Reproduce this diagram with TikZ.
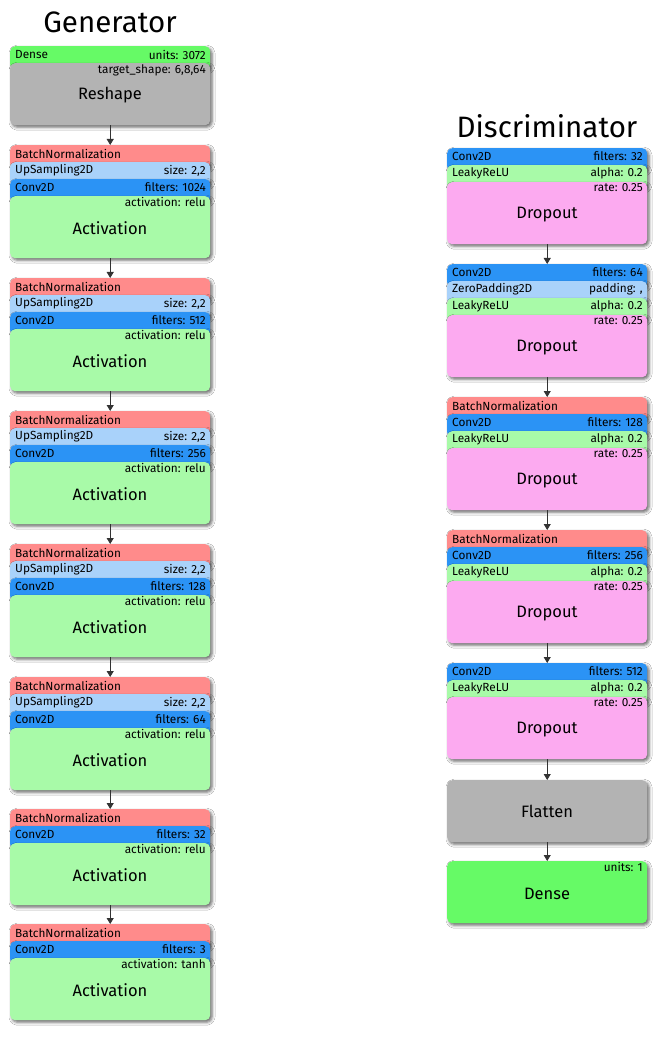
\documentclass[tikz,border=0pt]{standalone}
\usepackage{fontspec}
\setmainfont{Fira Sans}
\usetikzlibrary{shadows.blur,arrows.meta}
\definecolor{cBN}{HTML}{FF8B8B}
\definecolor{cUp}{HTML}{A9D2FA}
\definecolor{cConv}{HTML}{2B93F5}
\definecolor{cAct}{HTML}{A8FAA8}
\definecolor{cDense}{HTML}{66FA66}
\definecolor{cGray}{HTML}{B3B3B3}
\definecolor{cDrop}{HTML}{FCAAF0}
\tikzset{
  box/.style={draw=none, rounded corners=5pt, minimum width=200pt, inner sep=0pt, anchor=north west,
    blur shadow={shadow xshift=1.8pt, shadow yshift=-2pt, shadow blur radius=3pt, shadow opacity=60}},
  lbl/.style={font=\fontsize{11.8}{13}\selectfont, inner sep=0pt},
  mainlbl/.style={font=\fontsize{16.5}{18}\selectfont, inner sep=0pt},
  ttl/.style={font=\fontsize{29.5}{32}\selectfont, inner sep=0pt},
  arr/.style={draw=black!80, line width=0.8pt, -{Triangle[length=6pt,width=7pt]}}
}
% strip with left and right labels: name, x, top, colour, left, right
\newcommand\stripLR[6]{%
  \node[box, fill=#4, minimum height=23pt] (#1) at (#2,#3) {};
  \node[lbl, anchor=west] (#1l) at (#2+5,#3+8.5) {#5};
  \node[lbl, anchor=east] (#1r) at (#2+196,#3+8.5) {#6};
}
% strip with left label only
\newcommand\stripL[5]{%
  \node[box, fill=#4, minimum height=23pt] (#1) at (#2,#3) {};
  \node[lbl, anchor=west] (#1l) at (#2+5,#3+8.5) {#5};
}
% body: name, x, top, colour, attr, main
\newcommand\bodyA[6]{%
  \node[box, fill=#4, minimum height=62pt] (#1) at (#2,#3) {};
  \node[lbl, anchor=north east] (#1a) at (#2+196,#3+1.5) {#5};
  \node[mainlbl] (#1m) at (#2+100,#3+32.5) {#6};
}
\newcommand\bodyN[5]{%
  \node[box, fill=#4, minimum height=62pt] (#1) at (#2,#3) {};
  \node[mainlbl] (#1m) at (#2+100,#3+31.5) {#5};
}
\begin{document}
\begin{tikzpicture}[x=1pt,y=-1pt]
\useasboundingbox[fill=white] (0,0) rectangle (660,1040);
% ---------------- Generator ----------------
\node[ttl] (gt) at (110,22) {Generator};
\stripLR{g0a}{10}{46}{cDense}{Dense}{units: 3072}
\bodyA{g0b}{10}{63}{cGray}{target\_shape: 6,8,64}{Reshape}

\stripL{g1a}{10}{145}{cBN}{BatchNormalization}
\stripLR{g1b}{10}{162}{cUp}{UpSampling2D}{size: 2,2}
\stripLR{g1c}{10}{179}{cConv}{Conv2D}{filters: 1024}
\bodyA{g1d}{10}{196}{cAct}{activation: relu}{Activation}

\stripL{g2a}{10}{278}{cBN}{BatchNormalization}
\stripLR{g2b}{10}{295}{cUp}{UpSampling2D}{size: 2,2}
\stripLR{g2c}{10}{312}{cConv}{Conv2D}{filters: 512}
\bodyA{g2d}{10}{329}{cAct}{activation: relu}{Activation}

\stripL{g3a}{10}{411}{cBN}{BatchNormalization}
\stripLR{g3b}{10}{428}{cUp}{UpSampling2D}{size: 2,2}
\stripLR{g3c}{10}{445}{cConv}{Conv2D}{filters: 256}
\bodyA{g3d}{10}{462}{cAct}{activation: relu}{Activation}

\stripL{g4a}{10}{544}{cBN}{BatchNormalization}
\stripLR{g4b}{10}{561}{cUp}{UpSampling2D}{size: 2,2}
\stripLR{g4c}{10}{578}{cConv}{Conv2D}{filters: 128}
\bodyA{g4d}{10}{595}{cAct}{activation: relu}{Activation}

\stripL{g5a}{10}{677}{cBN}{BatchNormalization}
\stripLR{g5b}{10}{694}{cUp}{UpSampling2D}{size: 2,2}
\stripLR{g5c}{10}{711}{cConv}{Conv2D}{filters: 64}
\bodyA{g5d}{10}{728}{cAct}{activation: relu}{Activation}

\stripL{g6a}{10}{809}{cBN}{BatchNormalization}
\stripLR{g6c}{10}{826}{cConv}{Conv2D}{filters: 32}
\bodyA{g6d}{10}{843}{cAct}{activation: relu}{Activation}

\stripL{g7a}{10}{924}{cBN}{BatchNormalization}
\stripLR{g7c}{10}{941}{cConv}{Conv2D}{filters: 3}
\bodyA{g7d}{10}{958}{cAct}{activation: tanh}{Activation}

\draw[arr] (g0b.south) -- (g1a.north);
\draw[arr] (g1d.south) -- (g2a.north);
\draw[arr] (g2d.south) -- (g3a.north);
\draw[arr] (g3d.south) -- (g4a.north);
\draw[arr] (g4d.south) -- (g5a.north);
\draw[arr] (g5d.south) -- (g6a.north);
\draw[arr] (g6d.south) -- (g7a.north);

% ---------------- Discriminator ----------------
\node[ttl] (dt) at (547,126) {Discriminator};
\stripLR{d1a}{447}{148}{cConv}{Conv2D}{filters: 32}
\stripLR{d1b}{447}{165}{cAct}{LeakyReLU}{alpha: 0.2}
\bodyA{d1c}{447}{182}{cDrop}{rate: 0.25}{Dropout}

\stripLR{d2a}{447}{264}{cConv}{Conv2D}{filters: 64}
\stripLR{d2b}{447}{281}{cUp}{ZeroPadding2D}{padding: ,}
\stripLR{d2c}{447}{298}{cAct}{LeakyReLU}{alpha: 0.2}
\bodyA{d2d}{447}{315}{cDrop}{rate: 0.25}{Dropout}

\stripL{d3a}{447}{397}{cBN}{BatchNormalization}
\stripLR{d3b}{447}{414}{cConv}{Conv2D}{filters: 128}
\stripLR{d3c}{447}{431}{cAct}{LeakyReLU}{alpha: 0.2}
\bodyA{d3d}{447}{448}{cDrop}{rate: 0.25}{Dropout}

\stripL{d4a}{447}{530}{cBN}{BatchNormalization}
\stripLR{d4b}{447}{547}{cConv}{Conv2D}{filters: 256}
\stripLR{d4c}{447}{564}{cAct}{LeakyReLU}{alpha: 0.2}
\bodyA{d4d}{447}{581}{cDrop}{rate: 0.25}{Dropout}

\stripLR{d5a}{447}{663}{cConv}{Conv2D}{filters: 512}
\stripLR{d5b}{447}{680}{cAct}{LeakyReLU}{alpha: 0.2}
\bodyA{d5c}{447}{697}{cDrop}{rate: 0.25}{Dropout}

\bodyN{d6}{447}{780}{cGray}{Flatten}
\bodyA{d7}{447}{861}{cDense}{units: 1}{Dense}

\draw[arr] (d1c.south) -- (d2a.north);
\draw[arr] (d2d.south) -- (d3a.north);
\draw[arr] (d3d.south) -- (d4a.north);
\draw[arr] (d4d.south) -- (d5a.north);
\draw[arr] (d5c.south) -- (d6.north);
\draw[arr] (d6.south) -- (d7.north);
\end{tikzpicture}
\end{document}
